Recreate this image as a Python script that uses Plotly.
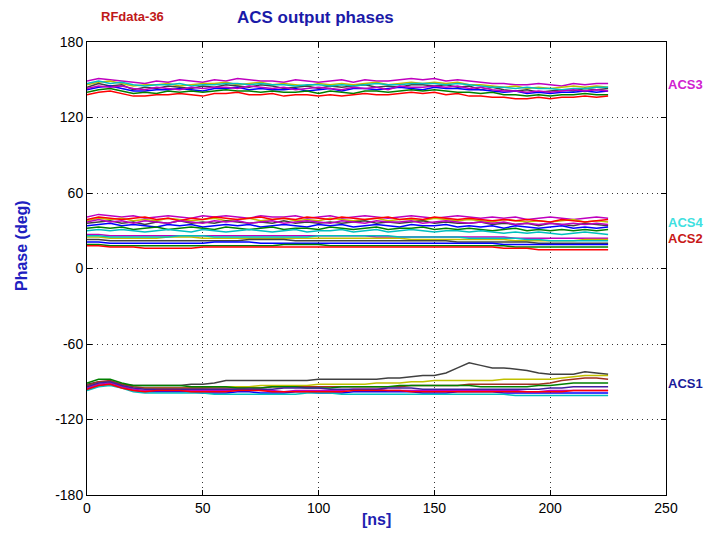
import plotly.graph_objects as go

# Sample times (ns)
T_NS = [0, 5, 10, 15, 20, 25, 30, 35, 40, 45, 50, 55, 60, 65, 70, 75, 80, 85, 90, 95,
        100, 105, 110, 115, 120, 125, 130, 135, 140, 145, 150, 155, 160, 165, 170, 175,
        180, 185, 190, 195, 200, 205, 210, 215, 220, 225]

# ACS3 phases (deg)
ACS3_A = [149,151,150,149,148,147,149,148,150,149,148,150,149,151,150,149,149,148,150,149,148,149,150,148,150,149,149,150,151,150,151,149,150,149,148,147,147,146,146,147,146,145,147,146,147,147]
ACS3_B = [146,148,149,147,145,146,146,147,145,146,147,147,148,146,147,148,146,147,146,145,147,146,147,146,147,148,146,147,148,147,148,147,148,146,146,145,144,145,143,144,143,144,145,144,145,144]
ACS3_C = [144,147,145,146,142,144,143,145,144,143,145,144,146,145,144,146,145,143,144,145,143,145,144,145,146,144,145,144,146,146,145,146,144,145,142,144,142,141,142,140,141,142,141,143,142,143]
ACS3_D = [142,144,145,143,141,141,142,142,143,142,141,143,143,144,142,143,142,142,143,141,142,143,141,143,143,142,143,144,143,142,144,143,143,142,142,141,140,141,139,140,139,140,140,141,140,141]
ACS3_E = [140,142,143,141,139,140,139,141,140,141,140,141,142,141,141,140,141,140,140,141,139,141,140,139,141,141,140,141,142,141,142,141,140,140,139,140,138,138,137,138,137,138,138,139,138,138]
ACS3_F = [138,140,141,139,137,137,138,138,139,138,137,139,139,140,138,138,139,137,138,138,137,138,137,138,139,138,138,139,140,139,140,138,139,137,137,136,136,135,135,136,135,136,136,137,136,137]
ACS3_G = [147,149,147,148,146,145,146,146,147,145,146,146,147,147,146,147,146,146,145,146,146,145,146,145,146,147,146,146,147,147,147,146,147,146,145,144,144,143,144,143,143,142,143,143,144,144]
ACS3_H = [143,145,144,145,143,142,144,143,142,144,143,144,144,143,145,144,143,144,142,143,144,143,142,144,143,144,142,145,144,144,145,144,145,143,144,142,141,141,140,141,140,141,142,141,142,141]

# ACS4 phases (deg)
ACS4_A = [41,43,42,41,42,40,41,42,41,40,42,41,42,41,40,42,41,41,42,40,41,42,40,41,42,41,40,41,42,41,40,41,42,41,40,41,40,41,39,40,41,40,39,40,41,40]
ACS4_B = [38,40,39,40,38,39,38,40,39,38,39,40,38,39,40,38,39,40,38,39,38,40,39,38,39,40,38,39,39,38,40,39,38,39,38,37,39,38,37,38,37,38,39,37,38,37]
ACS4_C = [36,37,38,36,37,35,37,36,38,36,37,36,38,37,36,37,36,38,36,37,36,37,36,37,38,36,37,36,37,38,36,37,36,36,37,35,36,35,36,34,36,35,34,36,35,34]
ACS4_D = [34,35,36,34,35,34,33,35,34,35,33,34,35,34,35,33,34,35,34,33,35,34,35,33,34,35,34,33,35,34,34,35,33,34,33,34,32,34,33,32,33,34,32,33,32,33]
ACS4_E = [32,33,32,33,31,32,33,31,32,33,32,31,33,32,31,32,33,31,32,32,31,33,32,31,32,33,31,32,32,33,31,32,31,32,31,30,31,32,30,31,30,31,30,31,30,31]
ACS4_F = [39,41,40,39,40,41,39,40,38,40,39,41,40,39,40,41,39,40,39,41,40,39,41,40,39,40,41,39,40,39,41,40,39,40,39,38,39,38,39,38,37,39,38,37,38,39]
ACS4_G = [30,31,30,31,30,29,30,31,30,29,31,30,29,30,31,30,29,30,31,29,30,30,31,29,30,31,29,30,31,30,29,30,30,29,30,29,28,29,28,29,28,27,28,29,28,27]
ACS4_H = [37,39,37,38,36,38,37,36,38,37,36,38,37,38,36,37,38,36,37,38,37,36,38,37,36,38,37,37,38,36,37,38,37,36,37,36,37,35,36,35,36,35,36,35,36,35]

# ACS2 phases (deg)
ACS2_A = [27,27,26,26,26,26,26,26,26,26,26,26,26,26,26,26,26,26,26,26,26,26,26,26,26,25,25,25,25,25,25,25,25,25,25,25,25,24,24,24,24,24,24,24,24,24]
ACS2_B = [25,25,24,24,24,24,24,25,25,25,24,24,24,24,24,24,24,24,24,24,24,24,24,24,24,24,24,24,23,23,23,23,23,23,23,23,23,22,22,22,22,22,22,23,23,23]
ACS2_C = [23,23,22,22,22,22,22,22,22,22,22,22,22,22,23,23,23,23,22,22,22,22,22,22,22,22,22,22,22,22,22,22,21,21,21,21,21,21,21,20,20,20,20,20,20,20]
ACS2_D = [21,21,20,20,20,20,20,20,20,20,20,21,21,21,21,20,20,20,20,20,20,20,20,20,20,20,20,20,20,20,20,20,20,20,20,20,19,19,19,19,19,19,19,19,19,19]
ACS2_E = [19,19,18,18,18,18,18,18,18,18,18,18,18,18,18,18,18,19,19,19,19,18,18,18,18,18,18,18,18,18,18,18,18,18,18,18,18,17,17,17,17,17,17,17,17,17]
ACS2_F = [18,18,17,17,17,16,16,16,16,16,17,17,17,17,17,17,17,17,17,17,17,17,17,17,17,17,17,17,17,17,17,17,17,17,17,17,16,16,16,15,15,15,15,15,15,15]
ACS2_G = [26,26,25,25,25,25,25,25,26,26,26,25,25,25,25,25,25,25,25,25,26,26,26,26,26,26,26,25,25,25,25,25,25,24,24,24,24,24,23,23,22,22,22,22,22,22]

# ACS1 phases (deg)
ACS1_A = [-92,-90,-90,-92,-93,-93,-93,-93,-93,-92,-92,-91,-89,-89,-89,-89,-89,-89,-89,-89,-88,-88,-88,-88,-88,-88,-87,-87,-86,-85,-85,-83,-79,-75,-77,-79,-79,-80,-81,-83,-84,-84,-84,-82,-83,-84]
ACS1_B = [-94,-91,-90,-93,-95,-95,-95,-95,-95,-95,-95,-94,-94,-94,-94,-93,-93,-93,-93,-93,-92,-92,-92,-92,-92,-91,-91,-91,-90,-90,-89,-89,-89,-89,-89,-89,-88,-88,-88,-88,-88,-87,-86,-85,-85,-85]
ACS1_C = [-93,-90,-89,-92,-94,-95,-95,-95,-95,-95,-95,-95,-95,-95,-95,-95,-94,-94,-94,-94,-94,-94,-94,-94,-94,-94,-94,-94,-93,-93,-93,-93,-93,-92,-92,-92,-92,-92,-92,-92,-91,-89,-88,-87,-87,-88]
ACS1_D = [-91,-88,-88,-91,-93,-93,-93,-93,-93,-94,-94,-94,-94,-95,-95,-95,-94,-94,-94,-95,-95,-95,-94,-94,-94,-94,-94,-93,-93,-93,-93,-93,-93,-93,-94,-94,-94,-94,-94,-93,-93,-92,-91,-91,-91,-91]
ACS1_E = [-96,-93,-92,-94,-97,-98,-98,-98,-98,-98,-99,-99,-99,-98,-98,-99,-99,-99,-98,-98,-99,-99,-99,-98,-98,-98,-98,-98,-98,-99,-99,-99,-98,-98,-98,-98,-99,-99,-99,-99,-99,-99,-99,-99,-99,-99]
ACS1_F = [-95,-92,-91,-94,-96,-97,-97,-97,-97,-97,-97,-97,-97,-97,-96,-97,-97,-98,-97,-97,-97,-97,-97,-96,-96,-96,-97,-97,-97,-97,-97,-97,-97,-97,-97,-97,-97,-97,-98,-98,-97,-97,-97,-97,-97,-97]
ACS1_G = [-97,-94,-93,-95,-98,-99,-99,-99,-99,-99,-99,-100,-100,-100,-100,-100,-100,-100,-100,-99,-99,-99,-100,-100,-100,-100,-100,-100,-100,-100,-100,-100,-100,-100,-100,-100,-100,-101,-101,-101,-101,-101,-101,-101,-101,-101]
ACS1_H = [-94,-91,-90,-93,-95,-96,-96,-96,-96,-96,-96,-96,-96,-96,-96,-96,-96,-95,-95,-95,-95,-96,-96,-96,-96,-96,-95,-95,-95,-96,-96,-96,-96,-96,-96,-96,-96,-96,-96,-96,-95,-95,-94,-94,-94,-94]
ACS1_I = [-96,-93,-92,-95,-97,-98,-97,-97,-97,-98,-98,-98,-98,-97,-97,-97,-98,-98,-98,-98,-98,-98,-98,-97,-97,-97,-97,-97,-98,-98,-98,-98,-98,-98,-98,-98,-98,-98,-98,-98,-98,-98,-97,-97,-97,-97]

GROUPS = {
    "ACS3": [ACS3_A, ACS3_B, ACS3_C, ACS3_D, ACS3_E, ACS3_F, ACS3_G, ACS3_H],
    "ACS4": [ACS4_A, ACS4_B, ACS4_C, ACS4_D, ACS4_E, ACS4_F, ACS4_G, ACS4_H],
    "ACS2": [ACS2_A, ACS2_B, ACS2_C, ACS2_D, ACS2_E, ACS2_F, ACS2_G],
    "ACS1": [ACS1_A, ACS1_B, ACS1_C, ACS1_D, ACS1_E, ACS1_F, ACS1_G, ACS1_H, ACS1_I],
}

X_TICKS = [0, 50, 100, 150, 200, 250]
Y_TICKS = [-180, -120, -60, 0, 60, 120, 180]
Y_TICK_TEXT = ["-180", "-120", "-60", "0", "60", "120", "180"]

# MATLAB-like colour cycle
COLORS = ["#0000ff", "#008000", "#ff0000", "#00bfbf", "#bf00bf", "#bfbf00", "#404040"]
ACS1_COLORS = ["#404040", "#bfbf00", "#a03020", "#008000", "#0000ff", "#bf00bf", "#00bfbf", "#4020a0", "#ff0000"]

fig = go.Figure()
for name, traces in GROUPS.items():
    for i, ys in enumerate(traces):
        col = ACS1_COLORS[i % len(ACS1_COLORS)] if name == "ACS1" else COLORS[(i + len(name)) % len(COLORS)]
        fig.add_trace(go.Scatter(x=T_NS, y=ys, mode="lines",
                                 line=dict(color=col, width=1.5),
                                 showlegend=False, hoverinfo="skip"))

axis_common = dict(showline=True, linecolor="black", linewidth=1, mirror="ticks",
                   ticks="inside", ticklen=5, tickcolor="black",
                   showgrid=True, gridcolor="#333333", griddash="1px,4px", gridwidth=1,
                   zeroline=False,
                   tickfont=dict(family="Liberation Sans, Arial", size=14, color="black"))

fig.update_xaxes(range=[0, 250], tickvals=X_TICKS, **axis_common)
fig.update_yaxes(range=[-180, 180], tickvals=Y_TICKS, ticktext=Y_TICK_TEXT, **axis_common)

LABELS = [("ACS3", 146, "#d020d0"), ("ACS4", 36.5, "#40e0e0"),
          ("ACS2", 24, "#c81818"), ("ACS1", -91.5, "#1a1a9a")]
annotations = []
for txt, yv, col in LABELS:
    annotations.append(dict(text=txt, xref="paper", yref="y", x=1.0, y=yv,
                            xanchor="left", yanchor="middle", showarrow=False,
                            font=dict(family="Liberation Sans, Arial", size=13, color=col, weight="bold")))

annotations += [
    dict(text="ACS output phases", xref="paper", yref="paper", x=0.394, y=1.053,
         xanchor="center", yanchor="middle", showarrow=False,
         font=dict(family="Liberation Sans, Arial", size=17, color="#1a1aa8", weight="bold")),
    dict(text="RFdata-36", xref="paper", yref="paper", x=0.02, y=1.057,
         xanchor="left", yanchor="middle", showarrow=False,
         font=dict(family="Liberation Sans Narrow, Liberation Sans, Arial", size=13, color="#c01818", weight="bold")),
    dict(text="Phase (deg)", xref="paper", yref="paper", x=-0.112, y=0.55,
         xanchor="center", yanchor="middle", showarrow=False, textangle=-90,
         font=dict(family="Liberation Sans, Arial", size=16, color="#2020c0", weight="bold")),
    dict(text="[ns]", xref="paper", yref="paper", x=0.5, y=-0.055,
         xanchor="center", yanchor="middle", showarrow=False,
         font=dict(family="Liberation Sans, Arial", size=16, color="#2020b0", weight="bold")),
]

fig.update_layout(width=704, height=539,
                  margin=dict(l=79, r=46, t=34, b=52),
                  paper_bgcolor="white", plot_bgcolor="white",
                  annotations=annotations, showlegend=False)

fig.write_html("out.html")
